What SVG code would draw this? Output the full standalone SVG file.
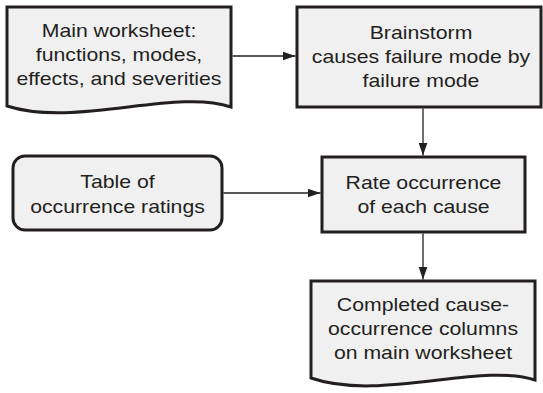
<svg xmlns="http://www.w3.org/2000/svg" width="543" height="393" viewBox="0 0 543 393">
  <style>
    .box { fill: #f0f0f0; stroke: #231f20; stroke-width: 3; stroke-linejoin: miter; }
    .lbl { font-family: "Liberation Sans", Arial, sans-serif; font-size: 18.8px; fill: #231f20; text-anchor: middle; }
    .edge { fill: none; stroke: #231f20; stroke-width: 1.3; }
  </style>
  <defs>
    <marker id="arrow" markerUnits="userSpaceOnUse" markerWidth="14" markerHeight="10" refX="13" refY="5" orient="auto">
      <path d="M0,0.5 L13,5 L0,9.5 Z" fill="#231f20"/>
    </marker>
  </defs>
  <rect width="543" height="393" fill="#ffffff"/>

  <!-- labels use a slightly wide face: each is stretched 1.13x horizontally about its centre -->
  <g id="main-worksheet">
    <path class="box" d="M7,7 H231 V107 C175,88 75,128 7,106 Z"/>
    <text class="lbl" transform="matrix(1.13 0 0 1 119 0)" x="0" y="37.5">Main worksheet:</text>
    <text class="lbl" transform="matrix(1.13 0 0 1 119 0)" x="0" y="61.5">functions, modes,</text>
    <text class="lbl" transform="matrix(1.13 0 0 1 119 0)" x="0" y="85.5">effects, and severities</text>
  </g>

  <g id="brainstorm">
    <rect class="box" x="297" y="7" width="244" height="100"/>
    <text class="lbl" transform="matrix(1.13 0 0 1 421 0)" x="0" y="39.5">Brainstorm</text>
    <text class="lbl" transform="matrix(1.13 0 0 1 421 0)" x="0" y="63.5">causes failure mode by</text>
    <text class="lbl" transform="matrix(1.13 0 0 1 421 0)" x="0" y="87.5">failure mode</text>
  </g>

  <g id="occurrence-table">
    <rect class="box" x="13" y="156" width="209" height="74" rx="12" ry="12"/>
    <text class="lbl" transform="matrix(1.13 0 0 1 117.5 0)" x="0" y="188.5">Table of</text>
    <text class="lbl" transform="matrix(1.13 0 0 1 117.5 0)" x="0" y="213">occurrence ratings</text>
  </g>

  <g id="rate-occurrence">
    <rect class="box" x="322" y="157" width="203" height="75"/>
    <text class="lbl" transform="matrix(1.13 0 0 1 423.5 0)" x="0" y="189">Rate occurrence</text>
    <text class="lbl" transform="matrix(1.13 0 0 1 423.5 0)" x="0" y="213">of each cause</text>
  </g>

  <g id="completed-columns">
    <path class="box" d="M311,281 H535 V380 C480,362 380,402 311,378 Z"/>
    <text class="lbl" transform="matrix(1.13 0 0 1 423 0)" x="0" y="311.5">Completed cause-</text>
    <text class="lbl" transform="matrix(1.13 0 0 1 423 0)" x="0" y="335.5">occurrence columns</text>
    <text class="lbl" transform="matrix(1.13 0 0 1 423 0)" x="0" y="359.5">on main worksheet</text>
  </g>

  <g id="connectors">
    <line class="edge" x1="232.5" y1="56" x2="295.5" y2="56" marker-end="url(#arrow)"/>
    <line class="edge" x1="423" y1="108.5" x2="423" y2="155.5" marker-end="url(#arrow)"/>
    <line class="edge" x1="223.5" y1="193" x2="320.5" y2="193" marker-end="url(#arrow)"/>
    <line class="edge" x1="423" y1="233.5" x2="423" y2="279.5" marker-end="url(#arrow)"/>
  </g>
</svg>
